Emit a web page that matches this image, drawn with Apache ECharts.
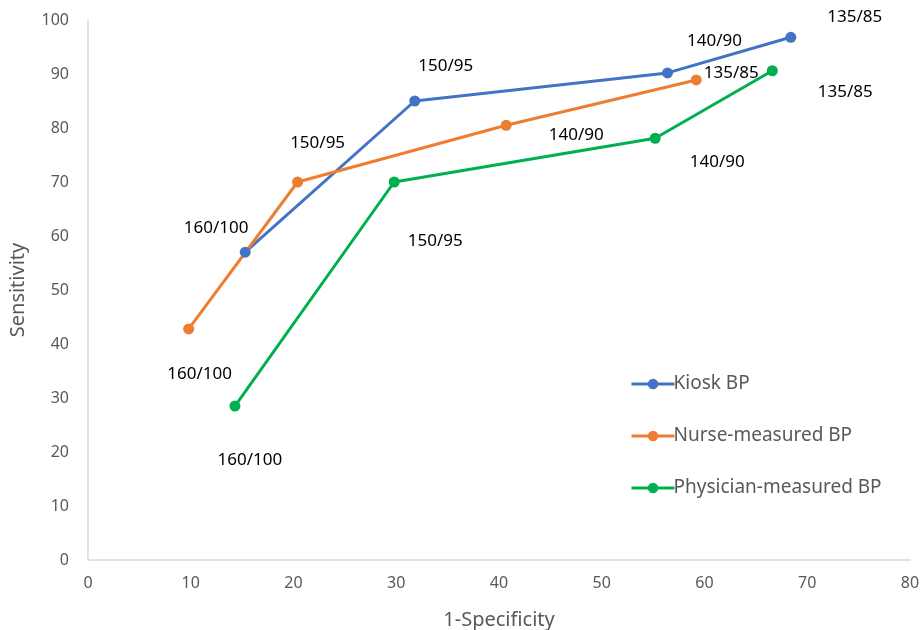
<!DOCTYPE html>
<html>
<head>
<meta charset="utf-8">
<script src="https://cdn.jsdelivr.net/npm/echarts@6/dist/echarts.min.js"></script>
<style>html,body{margin:0;padding:0;background:#fff}#c{width:921px;height:630px}</style>
</head>
<body>
<div id="c"></div>
<script>
// Data
const thresholdLabels = ['160/100', '150/95', '140/90', '135/85'];
const kioskX = [15.3, 31.8, 56.4, 68.4];
const kioskY = [57.0, 85.0, 90.2, 96.8];
const nurseX = [9.8, 20.4, 40.7, 59.2];
const nurseY = [42.8, 70.0, 80.5, 88.9];
const physX = [14.3, 29.8, 55.2, 66.6];
const physY = [28.5, 70.0, 78.1, 90.6];
const seriesNames = ['Kiosk BP', 'Nurse-measured BP', 'Physician-measured BP'];
const xTicks = [0, 10, 20, 30, 40, 50, 60, 70, 80];
const yTicks = [0, 10, 20, 30, 40, 50, 60, 70, 80, 90, 100];

// Styling (label offsets in px)
const colors = ['#4472C4', '#ED7D31', '#00B050'];
const labelOffsets = [
  [[-29, -24], [31, -35], [47, -32], [64, -20]],
  [[11, 45], [20, -39], [70, 10], [35, -7]],
  [[15, 54], [41, 59], [62, 24], [73, 21]]
];
const FONT = 'Noto Sans';

const allX = [kioskX, nurseX, physX];
const allY = [kioskY, nurseY, physY];

const chart = echarts.init(document.getElementById('c'), null, { renderer: 'canvas' });
chart.setOption({
  animation: false,
  backgroundColor: '#fff',
  grid: { left: 88, right: 11, top: 20, bottom: 70, containLabel: false, outerBoundsMode: 'none' },
  legend: {
    orient: 'vertical',
    left: 625,
    top: 369,
    itemWidth: 43,
    itemHeight: 13,
    itemGap: 32,
    data: seriesNames,
    itemStyle: { borderWidth: 0 },
    lineStyle: { width: 3 },
    textStyle: { fontFamily: FONT, fontSize: 19, color: '#595959', lineHeight: 20, padding: [0, 0, 0, -6] }
  },
  xAxis: {
    type: 'value',
    min: xTicks[0], max: xTicks[xTicks.length - 1], interval: 10,
    name: '1-Specificity',
    nameLocation: 'middle',
    nameGap: 50,
    nameTextStyle: { fontFamily: FONT, fontSize: 20, color: '#595959' },
    axisLine: { show: true, lineStyle: { color: '#D9D9D9', width: 1.5 } },
    axisTick: { show: false },
    splitLine: { show: false },
    axisLabel: { fontFamily: FONT, fontSize: 16, color: '#595959', margin: 15 }
  },
  yAxis: {
    type: 'value',
    min: yTicks[0], max: yTicks[yTicks.length - 1], interval: 10,
    name: 'Sensitivity',
    nameLocation: 'middle',
    nameGap: 60,
    nameTextStyle: { fontFamily: FONT, fontSize: 20, color: '#595959' },
    axisLine: { show: true, lineStyle: { color: '#D9D9D9', width: 1.5 } },
    axisTick: { show: false },
    splitLine: { show: false },
    axisLabel: { fontFamily: FONT, fontSize: 16, color: '#595959', margin: 19 }
  },
  series: seriesNames.map((name, idx) => ({
    name: name,
    type: 'line',
    data: allX[idx].map((x, i) => [x, allY[idx][i]]),
    symbol: 'circle',
    symbolSize: 11,
    color: colors[idx],
    lineStyle: { width: 3, color: colors[idx] },
    itemStyle: { color: colors[idx] },
    label: {
      show: true,
      position: 'inside',
      align: 'center',
      verticalAlign: 'middle',
      fontFamily: FONT,
      fontSize: 17,
      color: '#000',
      formatter: p => thresholdLabels[p.dataIndex]
    },
    labelLayout: function (params) {
      const off = labelOffsets[idx][params.dataIndex];
      return { dx: off[0], dy: off[1], hideOverlap: false };
    }
  }))
});
</script>
</body>
</html>
